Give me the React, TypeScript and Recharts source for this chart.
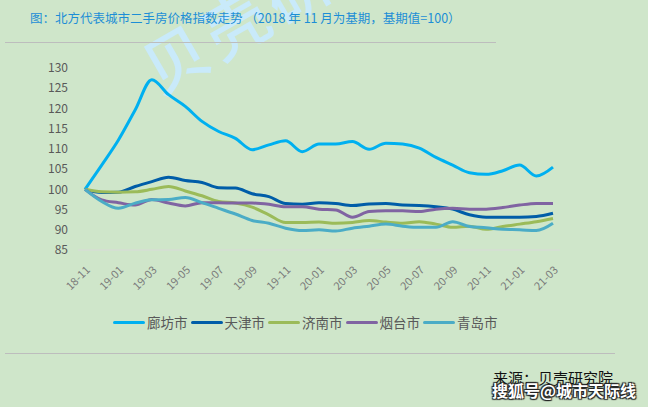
import React from "react";
import { LineChart, Line, XAxis, YAxis, CartesianGrid } from "recharts";

const months = [
  "18-11", "18-12", "19-01", "19-02", "19-03", "19-04", "19-05", "19-06", "19-07", "19-08",
  "19-09", "19-10", "19-11", "19-12", "20-01", "20-02", "20-03", "20-04", "20-05", "20-06",
  "20-07", "20-08", "20-09", "20-10", "20-11", "20-12", "21-01", "21-02", "21-03",
];

const langfang = [100, 106, 112.2, 119.6, 127.1, 123.4, 120.5, 116.8, 114.3, 112.6, 109.8, 111, 112, 109.3, 111.2, 111.2, 111.8, 109.9, 111.4, 111.2, 110.2, 107.9, 106, 104.1, 103.7, 104.6, 106, 103.3, 105.5];
const tianjin = [100, 99.2, 99.3, 100.7, 101.9, 103, 102.2, 101.7, 100.4, 100.3, 98.9, 98.2, 96.5, 96.3, 96.7, 96.5, 96, 96.4, 96.5, 96.1, 96, 95.7, 95.1, 93.7, 93.1, 93.1, 93.1, 93.3, 94.1];
const jinan = [100, 99.4, 99.3, 99.4, 100, 100.7, 99.6, 98.4, 97, 96.6, 95.6, 93.7, 91.8, 91.8, 91.9, 91.6, 91.8, 92.3, 91.9, 91.6, 92, 91.4, 90.6, 90.9, 90.1, 90.8, 91.4, 92, 92.8];
const yantai = [100, 97.4, 96.7, 96.1, 97.5, 96.6, 95.9, 96.7, 96.7, 96.6, 96.6, 96.3, 95.7, 95.7, 95.1, 94.9, 93.1, 94.5, 94.7, 94.7, 94.5, 95.1, 95.3, 95.1, 95.1, 95.5, 96.1, 96.5, 96.5];
const qingdao = [100, 97, 95.3, 96.6, 97.4, 97.5, 98, 96.7, 95.3, 93.9, 92.3, 91.6, 90.4, 89.8, 90, 89.7, 90.4, 90.9, 91.4, 90.9, 90.6, 90.6, 92, 90.8, 90.5, 90.1, 90, 89.8, 91.6];

const yTicks = [85, 90, 95, 100, 105, 110, 115, 120, 125, 130];

const seriesNames = ["廊坊市", "天津市", "济南市", "烟台市", "青岛市"];
const seriesKeys = ["lf", "tj", "jn", "yt", "qd"];
const seriesColors = ["#00B0F0", "#005DA8", "#9BBB59", "#8064A2", "#4BACC6"];
const seriesValues = [langfang, tianjin, jinan, yantai, qingdao];

const titleText = "图：北方代表城市二手房价格指数走势 （2018 年 11 月为基期，基期值=100）";
const sourceText = "来源：贝壳研究院";
const watermarkText = "搜狐号@城市天际线";
const bgMarkText = "贝壳研";

const data = months.map((m, i) => {
  const row: any = { month: m };
  seriesKeys.forEach((k, j) => {
    row[k] = seriesValues[j][i];
  });
  return row;
});

const FONT = "'Noto Sans CJK SC', 'Noto Sans', sans-serif";

const XTick = (props: any) => {
  const { x, y, payload } = props;
  return (
    <g transform={`translate(${x + 3},${y + 10})`}>
      <text
        x={0}
        y={0}
        dy="0.35em"
        textAnchor="end"
        transform="rotate(-45)"
        fill="#7a7a7a"
        fontSize={11}
        fontFamily={FONT}
      >
        {payload.value}
      </text>
    </g>
  );
};

export default function App() {
  return (
    <div
      style={{
        position: "absolute",
        left: 0,
        top: 0,
        width: 648,
        height: 407,
        background: "#CFE6CA",
        overflow: "hidden",
        fontFamily: FONT,
      }}
    >
      <div
        style={{
          position: "absolute",
          left: 146,
          top: 40,
          height: 64,
          lineHeight: "64px",
          fontSize: 64,
          color: "rgba(200,234,255,0.9)",
          transform: "rotate(-30deg)",
          transformOrigin: "left center",
          whiteSpace: "nowrap",
          fontWeight: 500,
          letterSpacing: 6,
        }}
      >
        {bgMarkText}
      </div>
      <div
        style={{
          position: "absolute",
          left: 30,
          top: 8,
          fontSize: 12.5,
          color: "#1C8ED6",
          whiteSpace: "pre",
        }}
      >
        {titleText}
      </div>
      <div style={{ position: "absolute", left: 5, top: 42, width: 491, height: 1, background: "#bdbdbd" }} />
      <div style={{ position: "absolute", left: 5, top: 353, width: 610, height: 1, background: "#bdbdbd" }} />
      <div style={{ position: "absolute", left: 0, top: 0 }}>
        <LineChart
          width={648}
          height={407}
          data={data}
          margin={{ top: 68, right: 88, bottom: 117, left: 0 }}
        >
          <CartesianGrid horizontal={false} vertical={false} />
          <XAxis
            dataKey="month"
            interval={1}
            tick={<XTick />}
            tickLine={false}
            axisLine={{ stroke: "#d9d9d9", strokeWidth: 1 }}
            padding={{ left: 7, right: 7 }}
            height={40}
          />
          <YAxis
            domain={[85, 130]}
            ticks={yTicks}
            width={78}
            tickLine={false}
            axisLine={false}
            tickSize={0}
            tickMargin={10}
            tick={{ fill: "#595959", fontSize: 12, fontFamily: FONT }}
            interval={0}
          />
          {seriesKeys.map((k, j) => (
            <Line
              key={k}
              type="monotone"
              dataKey={k}
              stroke={seriesColors[j]}
              strokeWidth={3}
              dot={false}
              isAnimationActive={false}
            />
          ))}
        </LineChart>
      </div>
      <div
        style={{
          position: "absolute",
          left: 113,
          top: 312,
          display: "flex",
          alignItems: "center",
          height: 20,
        }}
      >
        {seriesNames.map((n, j) => (
          <div key={n} style={{ display: "flex", alignItems: "center", marginRight: 3 }}>
            <div style={{ width: 32, height: 3, background: seriesColors[j], borderRadius: 2, marginRight: 2 }} />
            <span style={{ fontSize: 13.5, color: "#595959" }}>{n}</span>
          </div>
        ))}
      </div>
      <div style={{ position: "absolute", left: 493, top: 367, fontSize: 15, color: "#111" }}>{sourceText}</div>
      <div
        style={{
          position: "absolute",
          left: 492,
          top: 378,
          fontSize: 16,
          fontWeight: 700,
          color: "#fff",
          textShadow: "1px 1px 1px #222, -1px -1px 1px #222, 1px -1px 1px #222, -1px 1px 1px #222",
          whiteSpace: "nowrap",
        }}
      >
        {watermarkText}
      </div>
    </div>
  );
}
